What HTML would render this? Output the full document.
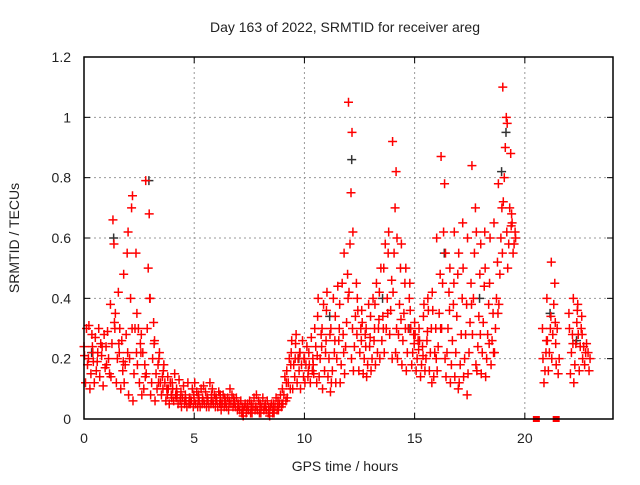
<!DOCTYPE html>
<html><head><meta charset="utf-8"><style>
body{margin:0;background:#fff}
svg text{font-family:"Liberation Sans",sans-serif;font-size:14px;fill:#222}
</style></head><body>
<svg id="chart" width="640" height="480" viewBox="0 0 640 480" xmlns="http://www.w3.org/2000/svg">
<rect width="640" height="480" fill="#fff"/>
<text x="345" y="32" text-anchor="middle">Day 163 of 2022, SRMTID for receiver areg</text>
<text x="345" y="471" text-anchor="middle">GPS time / hours</text>
<text transform="translate(19,238) rotate(-90)" text-anchor="middle">SRMTID / TECUs</text>
<g id="grid"></g>
<g id="ticks"></g>
<g id="black"></g>
<g id="red"></g>
<rect x="84" y="57" width="529" height="362" fill="none" stroke="#000" stroke-width="1.5"/>
</svg>
<script>
const xTicks=[0,5,10,15,20];
const yTicks=[0,0.2,0.4,0.6,0.8,1,1.2];
const yTickLabels=["0","0.2","0.4","0.6","0.8","1","1.2"];
const times=[0,0.2,0.4,0.6,0.8,1,1.2,1.4,1.6,1.8,2,2.2,2.4,2.6,2.8,3,3.2,3.4,3.6,3.8,4,4.2,4.4,4.6,4.8,5,5.2,5.4,5.6,5.8,6,6.2,6.4,6.6,6.8,7,7.2,7.4,7.6,7.8,8,8.2,8.4,8.6,8.8,9,9.2,9.4,9.6,9.8,10,10.2,10.4,10.6,10.8,11,11.2,11.4,11.6,11.8,12,12.2,12.4,12.6,12.8,13,13.2,13.4,13.6,13.8,14,14.2,14.4,14.6,14.8,15,15.2,15.4,15.6,15.8,16,16.2,16.4,16.6,16.8,17,17.2,17.4,17.6,17.8,18,18.2,18.4,18.6,18.8,19,19.2,19.4,20.8,21,21.2,21.4,22,22.2,22.4,22.6,22.8];
const tecu=[
[.24,.18,.30,.12,.21],[.20,.28,.15,.10,.31,.24],[.22,.16,.27,.12,.19],[.19,.25,.14,.30,.22],[.21,.17,.28,.11,.24],[.24,.15,.20,.29,.18],
[.38,.58,.66,.25,.14,.32],[.30,.42,.20,.12,.35,.25],[.22,.16,.26,.10,.30,.19],[.48,.55,.28,.18,.12,.22],[.62,.70,.40,.20,.08,.30],[.74,.55,.30,.15,.06,.22],
[.35,.25,.12,.30,.18,.22],[.28,.18,.10,.22,.08,.14],[.79,.68,.50,.30,.15,.40],[.40,.32,.20,.12,.08,.25],[.26,.18,.10,.15,.06,.12],[.20,.14,.08,.12,.22,.10],
[.16,.10,.06,.12,.18,.08],[.14,.08,.12,.05,.10,.07],[.12,.08,.15,.06,.10,.07],[.10,.06,.13,.05,.08,.07],[.09,.05,.11,.07,.04,.06],[.08,.05,.12,.04,.06,.07],
[.07,.04,.10,.06,.05,.08],[.06,.04,.09,.05,.12,.07],[.08,.05,.10,.04,.06,.07],[.06,.04,.09,.05,.11,.07],[.07,.05,.12,.04,.06,.08],[.06,.04,.08,.05,.10,.07],
[.07,.05,.09,.04,.06,.08],[.06,.04,.08,.05,.03,.07],[.05,.03,.07,.04,.06,.05],[.06,.04,.08,.05,.10,.07],[.05,.03,.07,.04,.06,.05],[.04,.02,.06,.03,.05,.04],
[.03,.02,.05,.04,.01,.03],[.04,.02,.06,.03,.05,.04],[.05,.03,.07,.04,.02,.04],[.04,.02,.06,.03,.08,.05],[.05,.03,.07,.04,.02,.04],[.04,.02,.06,.03,.05,.04],
[.03,.02,.05,.04,.01,.03],[.05,.03,.07,.04,.02,.04],[.06,.04,.08,.05,.03,.05],[.10,.06,.14,.08,.05,.12],[.16,.10,.20,.12,.07,.18],[.22,.14,.18,.10,.26,.20],
[.25,.16,.20,.12,.28,.22],[.22,.14,.26,.18,.10,.20],[.20,.14,.24,.18,.12,.16],[.22,.16,.27,.12,.18,.20],[.18,.12,.24,.30,.15,.21],[.34,.28,.20,.14,.40,.24],
[.30,.22,.16,.38,.10,.26],[.36,.28,.20,.14,.42,.09],[.30,.22,.40,.16,.12,.26],[.34,.26,.44,.20,.12,.30],[.38,.28,.45,.18,.12,.22],[.55,.48,.32,.24,.15,.40],
[1.05,.95,.75,.58,.42,.30,.20],[.62,.45,.34,.24,.16,.28],[.40,.30,.22,.16,.36,.26],[.36,.28,.20,.15,.32,.24],[.30,.24,.38,.18,.14,.27],[.34,.26,.40,.20,.16,.30],
[.38,.30,.22,.45,.18,.33],[.42,.34,.26,.50,.20,.30],[.50,.40,.30,.58,.22,.35],[.55,.46,.36,.28,.62,.20],[.92,.82,.70,.55,.42,.30,.22],[.60,.50,.38,.28,.20,.33],
[.58,.45,.35,.26,.18,.30],[.50,.40,.30,.22,.16,.45],[.36,.28,.22,.18,.30,.25],[.32,.26,.20,.16,.28,.23],[.30,.24,.18,.14,.26,.21],[.34,.26,.20,.16,.38,.29],
[.40,.30,.22,.16,.36,.12],[.42,.30,.22,.14,.36,.20],[.60,.48,.35,.24,.16,.30],[.87,.78,.62,.45,.30,.20],[.55,.42,.30,.22,.14,.36],[.50,.38,.26,.18,.12,.45],
[.62,.48,.34,.22,.14,.10],[.55,.40,.28,.18,.12,.65],[.50,.38,.28,.20,.14,.08],[.60,.45,.32,.22,.15,.38],[.84,.70,.55,.40,.28,.18],[.62,.48,.34,.24,.16,.28],
[.58,.44,.32,.22,.15,.62],[.50,.38,.28,.20,.14,.25],[.45,.35,.26,.18,.60,.22],[.65,.52,.40,.30,.22,.35],[.78,.70,.60,.48,.38,.55],[1.10,1.0,.90,.80,.72,.62],
[.98,.88,.70,.58,.50,.64],[.68,.62,.58,.55,.65,.60],[.30,.22,.16,.12,.20,.26],[.40,.30,.22,.16,.26,.34],[.52,.45,.38,.28,.20,.32],[.25,.20,.15,.30,.18],
[.35,.28,.22,.15,.30,.25],[.40,.32,.25,.18,.12,.36],[.38,.30,.24,.16,.28,.34],[.28,.22,.18,.24,.20],[.25,.20,.16,.22]];
const blackTimes=[0.3,1.3,2.9,9.7,11.1,12.1,13.5,14.7,16.3,17.9,18.9,19.1,21.1,22.3];
const blackValues=[0.22,0.60,0.79,0.20,0.34,0.86,0.40,0.30,0.55,0.40,0.82,0.95,0.35,0.26];
const gapTimes=[20.5,21.4];
const gapValues=[0,0];

const NS="http://www.w3.org/2000/svg";
const X=t=>84+t*(529/24);
const Y=v=>419-v*(362/1.2);
function cross(g,x,y,c){
  const p=document.createElementNS(NS,"path");
  p.setAttribute("d",`M${x-4.5},${y}H${x+4.5}M${x},${y-4.5}V${y+4.5}`);
  p.setAttribute("stroke",c);p.setAttribute("stroke-width","1.5");
  
  
  g.appendChild(p);
}
const grid=document.getElementById("grid"),ticks=document.getElementById("ticks");
function line(g,x1,y1,x2,y2,st,dash){
  const l=document.createElementNS(NS,"line");
  l.setAttribute("x1",x1);l.setAttribute("y1",y1);l.setAttribute("x2",x2);l.setAttribute("y2",y2);
  l.setAttribute("stroke",st);if(dash)l.setAttribute("stroke-dasharray",dash);
  g.appendChild(l);return l;
}
function text(g,x,y,s,anchor){
  const t=document.createElementNS(NS,"text");
  t.setAttribute("x",x);t.setAttribute("y",y);t.setAttribute("text-anchor",anchor);t.textContent=s;
  
  
  g.appendChild(t);
}
xTicks.forEach(t=>{const x=X(t);
  if(t>0){const l=line(grid,x,57,x,419,"#999","2,3");}
  line(ticks,x,419,x,413,"#000");line(ticks,x,57,x,63,"#000");
  text(ticks,x,443,String(t),"middle");});
yTicks.forEach((v,i)=>{const y=Y(v);
  if(v>0&&v<1.2){const l=line(grid,84,y,613,y,"#999","2,3");}
  line(ticks,84,y,90,y,"#000");line(ticks,613,y,607,y,"#000");
  text(ticks,71,y+5,yTickLabels[i],"end");});
const black=document.getElementById("black"),red=document.getElementById("red");
blackTimes.forEach((t,i)=>cross(black,X(t)+1,Y(blackValues[i]),"#333"));
times.forEach((t,i)=>tecu[i].forEach((v,j)=>cross(red,X(t)+((j*7)%9)*0.5,Y(v),"#f00")));
gapTimes.forEach((t,i)=>{
  const r=document.createElementNS(NS,"rect");
  r.setAttribute("x",X(t)-3);r.setAttribute("y",Y(gapValues[i])-3);r.setAttribute("width",7);r.setAttribute("height",6);r.setAttribute("fill","#f00");
  
  
  red.appendChild(r);
});
</script>
</body></html>
